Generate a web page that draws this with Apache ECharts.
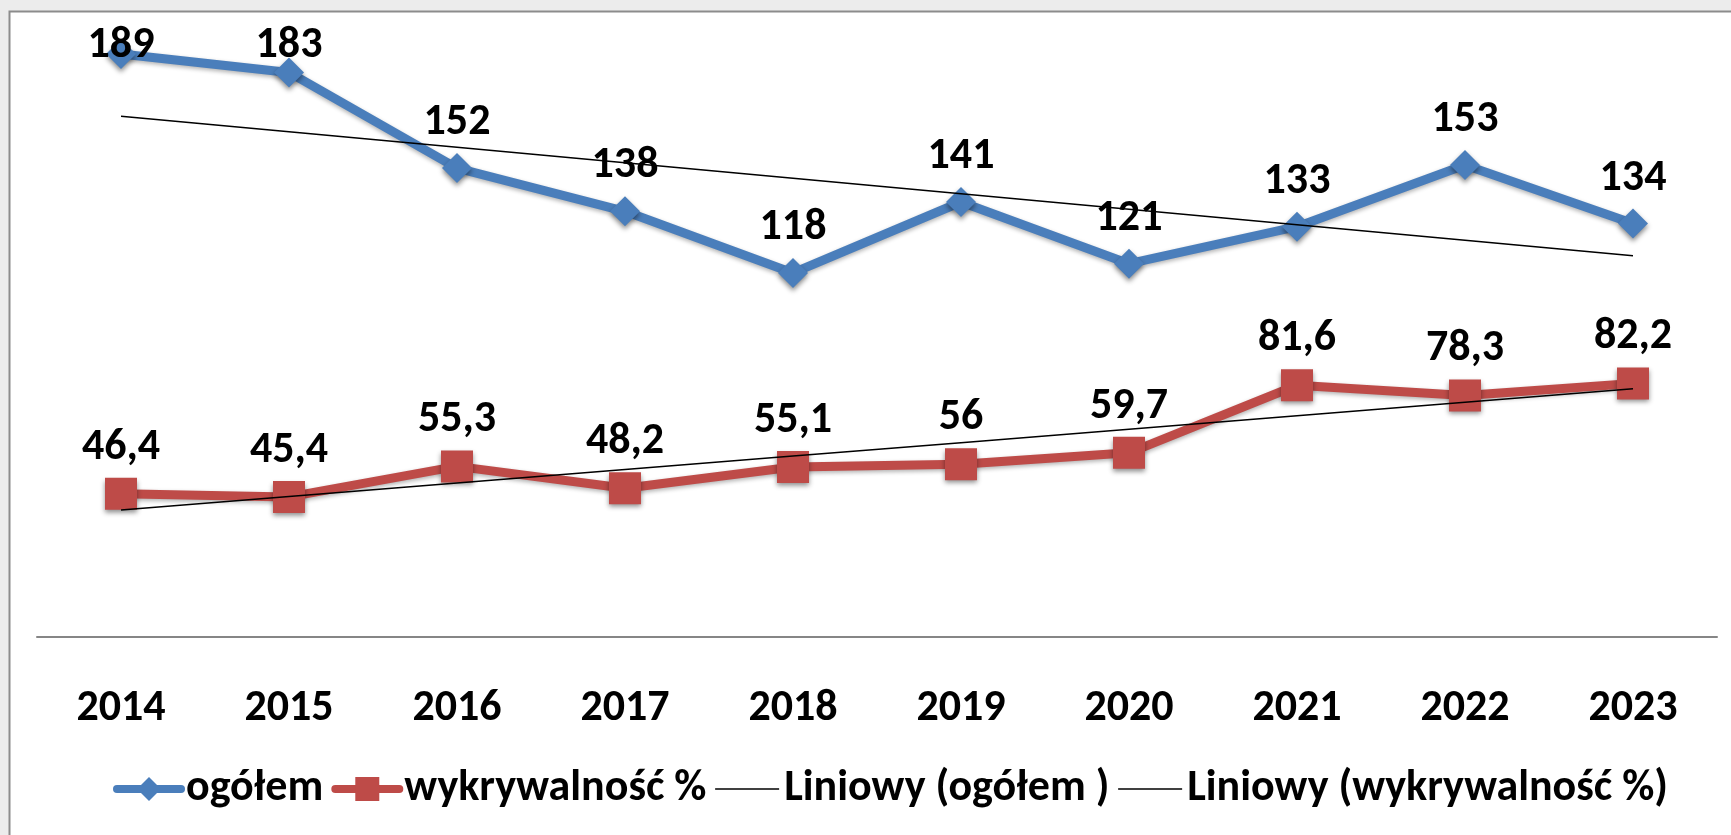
<!DOCTYPE html>
<html>
<head>
<meta charset="utf-8">
<script src="https://cdn.jsdelivr.net/npm/echarts@6/dist/echarts.min.js"></script>
<style>
  html, body { margin: 0; padding: 0; background: #fff; }
  #chart { width: 1731px; height: 835px; }
</style>
</head>
<body>
<div id="chart"></div>
<script>
// dane
var years = ['2014', '2015', '2016', '2017', '2018', '2019', '2020', '2021', '2022', '2023']
var ogolem = [189, 183, 152, 138, 118, 141, 121, 133, 153, 134]
var wykrywalnosc = [46.4, 45.4, 55.3, 48.2, 55.1, 56, 59.7, 81.6, 78.3, 82.2]

var FONT = 'Carlito, Lato, sans-serif'
var BLUE = '#4A7EBB'
var RED = '#BE4B48'

// linia trendu (regresja liniowa, jak w Excelu)
function trend(values) {
  var n = values.length, mx = (n - 1) / 2, my = 0
  values.forEach(function (v) { my += v / n })
  var sxy = 0, sxx = 0
  values.forEach(function (v, i) { sxy += (i - mx) * (v - my); sxx += (i - mx) * (i - mx) })
  var b = sxy / sxx
  return values.map(function (v, i) { return +(my + b * (i - mx)).toFixed(3) })
}

var chart = echarts.init(document.getElementById('chart'))

var labelStyle = {
  show: true,
  position: 'top',
  distance: 8,
  fontFamily: FONT,
  fontWeight: 'bold',
  fontSize: 44,
  color: '#000',
  formatter: function (p) { return String(p.value).replace('.', ',') }
}

chart.setOption({
  backgroundColor: '#ececec',
  animation: false,
  graphic: [{
    type: 'rect',
    z: -10,
    silent: true,
    shape: { x: 9.5, y: 11.5, width: 1740, height: 840 },
    style: { fill: '#fff', stroke: '#8c8c8c', lineWidth: 2 }
  }],
  grid: { left: 37, right: 14, top: 20, bottom: 198 },
  legend: {
    left: 108,
    top: 762,
    itemWidth: 64,
    itemHeight: 30,
    itemGap: 8,
    textStyle: { fontFamily: FONT, fontWeight: 'bold', fontSize: 44, color: '#000' },
    data: [
      { name: 'ogółem', lineStyle: { width: 8, cap: 'round' } },
      { name: 'wykrywalność %', lineStyle: { width: 8, cap: 'round' } },
      { name: 'Liniowy (ogółem )', lineStyle: { width: 1.5 }, itemStyle: { opacity: 0 } },
      { name: 'Liniowy (wykrywalność %)', lineStyle: { width: 1.5 }, itemStyle: { opacity: 0 } }
    ]
  },
  xAxis: {
    type: 'category',
    data: years,
    axisLine: { lineStyle: { color: '#868686', width: 2 } },
    axisTick: { show: false },
    axisLabel: { margin: 50, fontFamily: FONT, fontWeight: 'bold', fontSize: 44, color: '#000' }
  },
  yAxis: { type: 'value', min: 0, max: 200, show: false, splitLine: { show: false } },
  series: [
    {
      name: 'ogółem',
      type: 'line',
      data: ogolem,
      symbol: 'diamond',
      symbolSize: 30,
      z: 3,
      lineStyle: { color: BLUE, width: 9, shadowBlur: 4, shadowColor: 'rgba(0,0,0,0.3)', shadowOffsetY: 2 },
      itemStyle: { color: BLUE, shadowBlur: 5, shadowColor: 'rgba(0,0,0,0.45)', shadowOffsetY: 3 },
      label: labelStyle,
      // jak w Excelu: etykiety nie wychodzą poza obszar wykresu
      labelLayout: function (p) {
        if (p.labelRect.y < 20) {
          return { x: p.rect.x + p.rect.width / 2, y: 46, align: 'center', verticalAlign: 'middle' }
        }
        return {}
      }
    },
    {
      name: 'wykrywalność %',
      type: 'line',
      data: wykrywalnosc,
      symbol: 'rect',
      symbolSize: 32,
      z: 3,
      lineStyle: { color: RED, width: 9, shadowBlur: 4, shadowColor: 'rgba(0,0,0,0.3)', shadowOffsetY: 2 },
      itemStyle: { color: RED, shadowBlur: 5, shadowColor: 'rgba(0,0,0,0.45)', shadowOffsetY: 3 },
      label: labelStyle
    },
    {
      name: 'Liniowy (ogółem )',
      type: 'line',
      data: trend(ogolem),
      symbol: 'none',
      z: 4,
      silent: true,
      lineStyle: { color: '#000', width: 1.5 },
      itemStyle: { color: '#000' }
    },
    {
      name: 'Liniowy (wykrywalność %)',
      type: 'line',
      data: trend(wykrywalnosc),
      symbol: 'none',
      z: 4,
      silent: true,
      lineStyle: { color: '#000', width: 1.5 },
      itemStyle: { color: '#000' }
    }
  ]
})
</script>
</body>
</html>
